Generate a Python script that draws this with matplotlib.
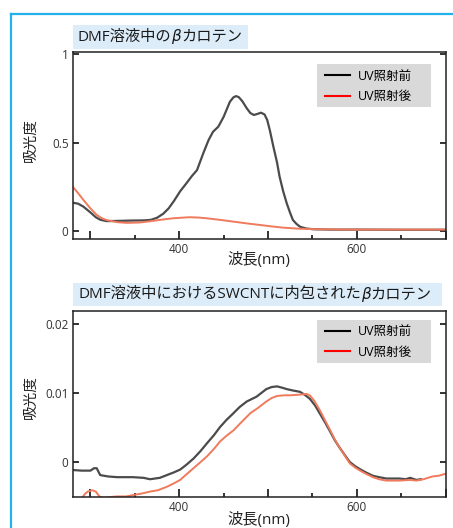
import numpy as np
import matplotlib
matplotlib.use("Agg")
import matplotlib.pyplot as plt
from matplotlib.lines import Line2D
from matplotlib.patches import Rectangle
from matplotlib.ticker import FixedLocator, FixedFormatter

# Latin glyphs from Open Sans, Japanese falls back to Noto Sans CJK JP
plt.rcParams["font.family"] = ["Open Sans", "Noto Sans CJK JP", "DejaVu Sans"]

# --- data (wavelength in nm, absorbance) ---
wl_free_before = [280, 286, 292, 300, 306, 311, 318, 330, 345, 360, 368, 375, 382, 388,
                  394, 401, 408, 414, 420, 427, 433, 438, 444, 450, 457, 461, 464, 467,
                  471, 476, 480, 484, 488, 492, 496, 499, 502, 506, 510, 513, 517, 521,
                  525, 528, 532, 536, 543, 551, 570, 600, 650, 700]
abs_free_before = [0.160, 0.155, 0.138, 0.105, 0.078, 0.064, 0.056, 0.057, 0.059, 0.060,
                   0.063, 0.075, 0.098, 0.128, 0.170, 0.225, 0.270, 0.310, 0.345, 0.440,
                   0.515, 0.562, 0.591, 0.647, 0.732, 0.757, 0.764, 0.758, 0.735, 0.695,
                   0.668, 0.657, 0.663, 0.670, 0.660, 0.629, 0.570, 0.477, 0.390, 0.307,
                   0.225, 0.157, 0.100, 0.062, 0.040, 0.024, 0.014, 0.010, 0.008, 0.008,
                   0.007, 0.007]

wl_free_after = [280, 286, 292, 300, 307, 313, 318, 330, 341, 355, 367, 380, 393, 405,
                 412, 422, 431, 446, 461, 476, 491, 504, 517, 535, 555, 600, 650, 700]
abs_free_after = [0.251, 0.215, 0.176, 0.128, 0.091, 0.072, 0.062, 0.050, 0.046, 0.048,
                  0.055, 0.064, 0.072, 0.076, 0.078, 0.076, 0.072, 0.063, 0.053, 0.043,
                  0.034, 0.026, 0.019, 0.013, 0.010, 0.008, 0.008, 0.008]

wl_cnt_before = [280, 290, 300, 304, 307, 311, 320, 330, 348, 360, 367, 378, 386, 394,
                 401, 408, 416, 424, 431, 439, 446, 453, 461, 468, 476, 487, 498, 504,
                 510, 516, 521, 528, 536, 541, 547, 553, 558, 564, 570, 575, 581, 587,
                 592, 598, 603, 610, 618, 625, 633, 640, 648, 655, 660, 667, 672]
abs_cnt_before = [-0.00116, -0.00125, -0.00125, -0.0009, -0.0009, -0.0019, -0.0021,
                  -0.0022, -0.0022, -0.0023, -0.0025, -0.0023, -0.0019, -0.0015, -0.0011,
                  -0.0004, 0.0005, 0.0016, 0.0027, 0.0039, 0.0051, 0.0061, 0.0071, 0.0080,
                  0.0088, 0.0095, 0.0106, 0.0109, 0.0110, 0.0108, 0.0106, 0.0104, 0.0102,
                  0.0098, 0.0092, 0.0082, 0.0071, 0.0058, 0.0044, 0.0032, 0.0020, 0.0009,
                  0.0000, -0.0006, -0.0010, -0.0015, -0.0020, -0.0022, -0.0024, -0.0024,
                  -0.0024, -0.0025, -0.0023, -0.0026, -0.0025]

wl_cnt_after = [280, 285, 289, 294, 297, 302, 306, 310, 315, 322, 330, 340, 348, 357,
                367, 376, 386, 394, 401, 408, 416, 424, 431, 439, 446, 453, 461, 470,
                480, 489, 498, 504, 510, 518, 525, 536, 543, 547, 552, 558, 564, 570,
                575, 581, 587, 592, 598, 603, 610, 618, 625, 633, 640, 648, 660, 667,
                675, 685, 692, 700]
abs_cnt_after = [-0.0067, -0.0060, -0.0055, -0.0046, -0.0043, -0.0041, -0.0043, -0.0050,
                 -0.0052, -0.0051, -0.0050, -0.0050, -0.0048, -0.0046, -0.0043, -0.0041,
                 -0.0036, -0.0031, -0.0026, -0.0018, -0.0009, 0.0000, 0.0008, 0.0019,
                 0.0030, 0.0038, 0.0046, 0.0058, 0.0071, 0.0079, 0.0088, 0.0093, 0.0096,
                 0.0097, 0.0097, 0.0098, 0.0099, 0.0097, 0.0089, 0.0076, 0.0061, 0.0046,
                 0.0033, 0.0020, 0.0008, -0.0002, -0.0008, -0.0012, -0.0017, -0.0022,
                 -0.0025, -0.0027, -0.0027, -0.0027, -0.0026, -0.0027, -0.0025, -0.0021,
                 -0.0020, -0.0017]

legend_labels = ["UV照射前", "UV照射後"]
x_major = [300, 400, 500, 600, 700]
x_major_labels = ["", "400", "", "600", ""]
x_minor = [350, 450, 550, 650]
y_free_ticks = [0, 0.5, 1]
y_free_labels = ["0", "0.5", "1"]
y_cnt_ticks = [0, 0.01, 0.02]
y_cnt_labels = ["0", "0.01", "0.02"]
title_free = [("DMF溶液中の", False), ("β", True), ("カロテン", False)]
title_cnt = [("DMF溶液中におけるSWCNTに内包された", False), ("β", True), ("カロテン", False)]

W, H = 453, 528
fig = plt.figure(figsize=(W / 100, H / 100), dpi=100, facecolor="white")


def fx(px):
    return px / W


def fy(py):
    return 1 - py / H


# cyan frame around the figure
frame_c = "#22b2ea"
fig.add_artist(Line2D([fx(11), 1.0], [fy(14), fy(14)], color=frame_c, lw=1.6))
fig.add_artist(Line2D([fx(11), fx(11)], [0.0, fy(14)], color=frame_c, lw=1.6))


def title_box(x0, x1, y0, y1, runs):
    fig.add_artist(Rectangle((fx(x0), fy(y1)), fx(x1) - fx(x0), fy(y0) - fy(y1),
                             transform=fig.transFigure, facecolor="#dcedf9",
                             edgecolor="none"))
    renderer = fig.canvas.get_renderer()
    x = fx(x0 + 5)
    y = fy((y0 + y1) / 2)
    for s, italic in runs:
        if italic:
            t = fig.text(x, y, s, fontsize=11, va="center", ha="left", color="#1a1a1a",
                         family="DejaVu Sans", style="italic")
        else:
            t = fig.text(x, y, s, fontsize=11, va="center", ha="left", color="#1a1a1a")
        x += t.get_window_extent(renderer).width / W


def panel(rect, wl_a, ab_a, wl_b, ab_b, ylim, yticks, ylabels, ylab_y, xlab_y,
          leg_box, leg_mid):
    ax = fig.add_axes(rect)
    ax.plot(wl_a, ab_a, color="#3c3c3c", lw=1.6, alpha=0.92, solid_joinstyle="round")
    ax.plot(wl_b, ab_b, color="#f07a5c", lw=1.4, solid_joinstyle="round")
    ax.set_xlim(280, 700)
    ax.set_ylim(*ylim)
    ax.xaxis.set_major_locator(FixedLocator(x_major))
    ax.xaxis.set_major_formatter(FixedFormatter(x_major_labels))
    ax.xaxis.set_minor_locator(FixedLocator(x_minor))
    ax.yaxis.set_major_locator(FixedLocator(yticks))
    ax.yaxis.set_major_formatter(FixedFormatter(ylabels))
    ax.tick_params(axis="x", which="major", direction="in", length=5.5, width=1.2,
                   labelsize=8.5, pad=3, colors="#111111", labelcolor="#333333")
    ax.tick_params(axis="x", which="minor", direction="in", length=3, width=1.2,
                   colors="#111111")
    ax.tick_params(axis="y", direction="in", length=4.5, width=1.2, labelsize=8.5, pad=3,
                   right=True, colors="#111111", labelcolor="#333333")
    for sp in ax.spines.values():
        sp.set_linewidth(1.1)
        sp.set_color("#222222")
    ax.set_ylabel("吸光度", fontsize=10.5, color="#222222")
    ax.yaxis.label.set_va("center")
    ax.yaxis.set_label_coords(-0.112, ylab_y)
    ax.set_xlabel("波長(nm)", fontsize=11, color="#222222")
    ax.xaxis.label.set_va("center")
    ax.xaxis.set_label_coords(0.5, xlab_y)

    # grey legend panel
    bx0, by0, bx1, by1 = leg_box
    ax.add_patch(Rectangle((bx0, by0), bx1 - bx0, by1 - by0, transform=ax.transAxes,
                           facecolor="#d9d9d9", edgecolor="none", zorder=4))
    handles = [Line2D([], [], color="black", lw=1.5), Line2D([], [], color="red", lw=1.5)]
    leg = ax.legend(handles, legend_labels, loc="center left",
                    bbox_to_anchor=(0.6764, leg_mid), borderaxespad=0, borderpad=0,
                    frameon=False, fontsize=9, handlelength=2.0, handletextpad=0.65,
                    labelspacing=0.6)
    leg.set_zorder(5)
    return ax


ax1 = panel([fx(72.7), fy(239.3), fx(445.7) - fx(72.7), fy(52.3) - fy(239.3)],
            wl_free_before, abs_free_before, wl_free_after, abs_free_after,
            (-0.047, 1.012), y_free_ticks, y_free_labels, 0.531, -0.111,
            (0.654, 0.709, 0.9606, 0.9374), 0.818)
ax2 = panel([fx(72.7), fy(496.7), fx(445.7) - fx(72.7), fy(310.7) - fy(496.7)],
            wl_cnt_before, abs_cnt_before, wl_cnt_after, abs_cnt_after,
            (-0.00504, 0.0220), y_cnt_ticks, y_cnt_labels, 0.538, -0.125,
            (0.654, 0.7204, 0.9606, 0.950), 0.8325)

title_box(72.7, 248, 25, 49, title_free)
title_box(73, 441.7, 283.3, 305.7, title_cnt)

fig.savefig("out.png", dpi=100, facecolor="white")
